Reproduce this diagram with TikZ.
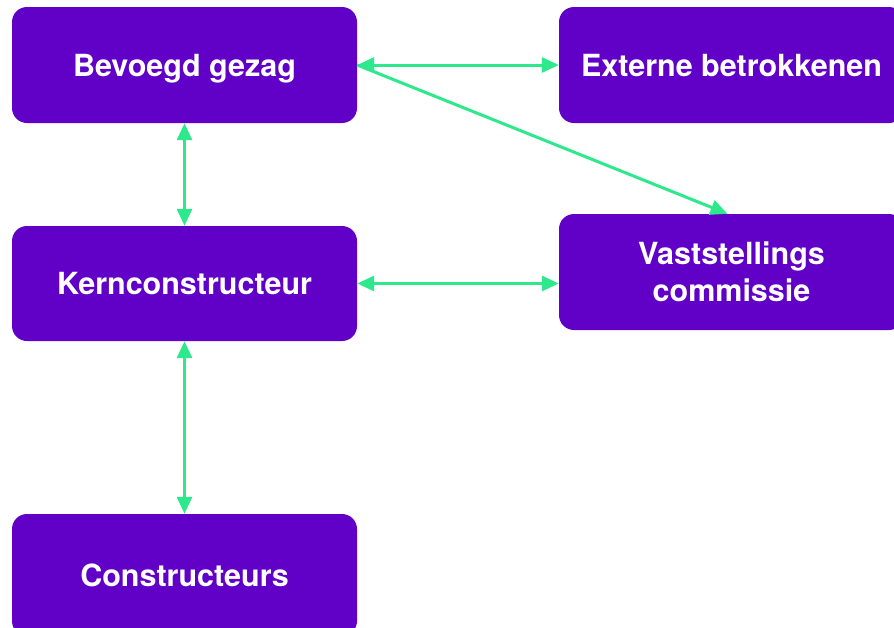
\documentclass[tikz,border=0pt]{standalone}
\usepackage{fontspec}
\setmainfont{TeX Gyre Heros}
\usepackage{tikz}
\usetikzlibrary{arrows.meta}
\definecolor{rolepurple}{RGB}{97,0,199}
\definecolor{linkgreen}{RGB}{46,232,140}

\begin{document}
\begin{tikzpicture}[x=1pt,y=-1pt,
	role/.style={fill=rolepurple,rounded corners=15pt,minimum width=345pt,minimum height=116pt,inner sep=0pt,text=white,align=center,text height=22pt,text depth=0pt,font=\fontsize{30.5}{37}\selectfont\bfseries},
	link/.style={draw=linkgreen,line width=3pt,-{Triangle[length=17pt,width=15pt]}},
	linkboth/.style={link,{Triangle[length=17pt,width=15pt]}-{Triangle[length=17pt,width=15pt]}}]
	\useasboundingbox (0,0) rectangle (894,627);
	\clip (0,0) rectangle (894,627);
	\node[role] (bevoegd) at (184.5,65) {Bevoegd gezag};
	\node[role] (extern) at (731.5,65) {Externe betrokkenen};
	\node[role,minimum height=115pt] (kern) at (184.5,283.5) {Kernconstructeur};
	\node[role,text height=,text depth=] (vast) at (731.5,272) {Vaststellings\\commissie};
	\node[role,minimum height=122pt] (constr) at (184.5,575) {Constructeurs};
	\draw[linkboth] (bevoegd.east) -- (extern.west);
	\draw[link] (bevoegd.east) -- ([xshift=-4pt]vast.north);
	\draw[linkboth] (bevoegd.south) -- (kern.north);
	\draw[linkboth] (kern.east) -- (kern.east -| vast.west);
	\draw[linkboth] (kern.south) -- (constr.north);
\end{tikzpicture}
\end{document}
